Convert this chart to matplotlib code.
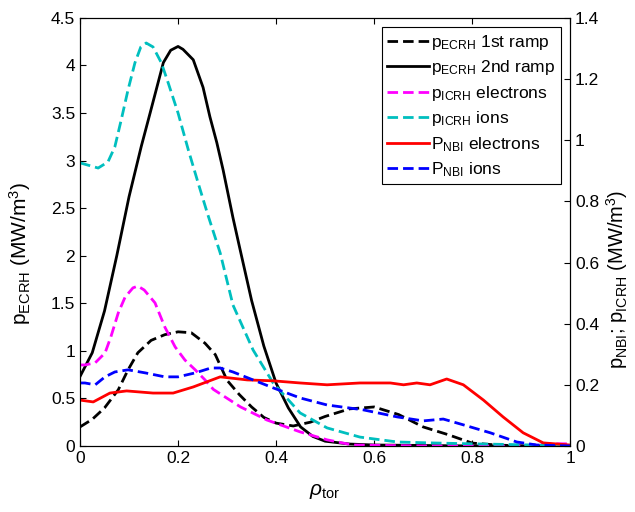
import matplotlib
matplotlib.use("Agg")
import matplotlib.pyplot as plt

plt.rcParams['font.family'] = ['Liberation Sans', 'DejaVu Sans']
plt.rcParams['mathtext.fontset'] = 'custom'
plt.rcParams['mathtext.rm'] = 'Liberation Sans'
plt.rcParams['mathtext.it'] = 'Liberation Sans:italic'
plt.rcParams['mathtext.default'] = 'regular'

# --- ECRH profiles (left axis, MW/m^3) ---
rho_ecrh2 = [0, 0.025, 0.05, 0.075, 0.1, 0.125, 0.143, 0.17, 0.185, 0.2, 0.21,
             0.231, 0.251, 0.265, 0.279, 0.292, 0.312, 0.325, 0.35, 0.375, 0.4, 0.425,
             0.45, 0.475, 0.5, 0.55, 0.6, 0.7, 0.8, 0.9, 1.0]
p_ecrh2 = [0.73, 0.98, 1.42, 2.0, 2.62, 3.15, 3.5, 4.03, 4.16, 4.2, 4.17,
           4.06, 3.77, 3.46, 3.19, 2.9, 2.4, 2.1, 1.53, 1.05, 0.66, 0.4,
           0.2, 0.1, 0.05, 0.02, 0.01, 0.005, 0.0, 0.0, 0.0]

rho_ecrh1 = [0, 0.025, 0.05, 0.078, 0.098, 0.118, 0.145, 0.173, 0.2, 0.227, 0.255,
             0.276, 0.3, 0.325, 0.35, 0.375, 0.4, 0.435, 0.47, 0.5, 0.55, 0.6, 0.65,
             0.7, 0.75, 0.8, 0.85, 0.9, 1.0]
p_ecrh1 = [0.2, 0.28, 0.4, 0.59, 0.8, 0.98, 1.11, 1.17, 1.2, 1.19, 1.08,
           0.96, 0.69, 0.54, 0.41, 0.3, 0.24, 0.21, 0.25, 0.31, 0.39, 0.41, 0.33,
           0.2, 0.12, 0.03, 0.01, 0.0, 0.0]

# --- ICRH / NBI profiles (right axis, MW/m^3) ---
rho_icrh_e = [0, 0.01, 0.031, 0.051, 0.063, 0.078, 0.092, 0.108, 0.118, 0.131, 0.153,
              0.173, 0.194, 0.214, 0.235, 0.255, 0.272, 0.327, 0.381, 0.449, 0.504,
              0.557, 0.7, 0.9, 0.95, 1.0]
p_icrh_e = [0.265, 0.265, 0.272, 0.304, 0.357, 0.435, 0.487, 0.517, 0.523, 0.51, 0.468,
            0.389, 0.324, 0.281, 0.249, 0.216, 0.185, 0.128, 0.085, 0.046, 0.02,
            0.003, 0.0, 0.0, 0.007, 0.007]

rho_icrh_i = [0, 0.037, 0.057, 0.071, 0.084, 0.098, 0.112, 0.124, 0.135, 0.149, 0.166,
              0.18, 0.2, 0.221, 0.241, 0.26, 0.286, 0.312, 0.353, 0.394, 0.449, 0.504,
              0.571, 0.647, 0.714, 0.8, 0.9, 1.0]
p_icrh_i = [0.926, 0.909, 0.929, 0.978, 1.066, 1.165, 1.253, 1.305, 1.318, 1.305, 1.253,
            1.187, 1.089, 0.968, 0.86, 0.76, 0.631, 0.461, 0.314, 0.206, 0.108, 0.059,
            0.029, 0.013, 0.01, 0.007, 0.004, 0.0]

rho_nbi_e = [0, 0.027, 0.061, 0.095, 0.149, 0.19, 0.231, 0.286, 0.341, 0.394, 0.449,
             0.504, 0.571, 0.633, 0.66, 0.687, 0.714, 0.748, 0.782, 0.823, 0.863,
             0.904, 0.945, 1.0]
p_nbi_e = [0.15, 0.144, 0.173, 0.18, 0.173, 0.173, 0.193, 0.226, 0.216, 0.213, 0.206,
           0.2, 0.206, 0.206, 0.2, 0.206, 0.2, 0.219, 0.2, 0.15, 0.095,
           0.043, 0.01, 0.003]

rho_nbi_i = [0, 0.01, 0.031, 0.051, 0.071, 0.098, 0.133, 0.173, 0.2, 0.235, 0.267,
             0.286, 0.312, 0.353, 0.394, 0.449, 0.504, 0.578, 0.647, 0.7, 0.741, 0.782,
             0.837, 0.891, 0.932, 1.0]
p_nbi_i = [0.206, 0.206, 0.2, 0.226, 0.242, 0.249, 0.239, 0.226, 0.226, 0.239, 0.255,
           0.255, 0.242, 0.216, 0.19, 0.157, 0.134, 0.118, 0.095, 0.082, 0.088, 0.069,
           0.043, 0.013, 0.003, 0.0]

dash = (0, (3.8, 1.8))
lw = 2.0

fig = plt.figure(figsize=(6.35, 5.12), dpi=100)
ax = fig.add_axes([0.126, 0.129, 0.772, 0.836])
ax2 = ax.twinx()

h1, = ax.plot(rho_ecrh1, p_ecrh1, color='k', lw=lw, ls=dash)
h2, = ax.plot(rho_ecrh2, p_ecrh2, color='k', lw=lw, ls='-')
h3, = ax2.plot(rho_icrh_e, p_icrh_e, color='#ff00ff', lw=lw, ls=dash)
h4, = ax2.plot(rho_icrh_i, p_icrh_i, color='#00bfbf', lw=lw, ls=dash)
h5, = ax2.plot(rho_nbi_e, p_nbi_e, color='#ff0000', lw=lw, ls='-')
h6, = ax2.plot(rho_nbi_i, p_nbi_i, color='#0000ff', lw=lw, ls=dash)

ax.set_xlim(0, 1)
ax.set_ylim(0, 4.5)
ax2.set_ylim(0, 1.4)
ax.set_xticks([0, 0.2, 0.4, 0.6, 0.8, 1])
ax.set_xticklabels(['0', '0.2', '0.4', '0.6', '0.8', '1'])
ax.set_yticks([0, 0.5, 1, 1.5, 2, 2.5, 3, 3.5, 4, 4.5])
ax.set_yticklabels(['0', '0.5', '1', '1.5', '2', '2.5', '3', '3.5', '4', '4.5'])
ax2.set_yticks([0, 0.2, 0.4, 0.6, 0.8, 1, 1.2, 1.4])
ax2.set_yticklabels(['0', '0.2', '0.4', '0.6', '0.8', '1', '1.2', '1.4'])

ax.tick_params(axis='both', direction='in', labelsize=12.5, length=4, top=True)
ax.tick_params(axis='y', right=False)
ax2.tick_params(axis='y', direction='in', labelsize=12.5, length=4)

ax.set_xlabel(r'$\mathit{\rho}_{tor}$', fontsize=15)
ax.set_ylabel(r'$p_{ECRH}$ (MW/m$^3$)', fontsize=15)
ax2.set_ylabel(r'$p_{NBI}$; $p_{ICRH}$ (MW/m$^3$)', fontsize=14.5)
ax.yaxis.set_label_coords(-0.095, 0.45)
ax2.yaxis.set_label_coords(1.07, 0.39)
ax.xaxis.set_label_coords(0.5, -0.085)

leg = ax2.legend([h1, h2, h3, h4, h5, h6],
                 [r'$p_{ECRH}$ 1st ramp', r'$p_{ECRH}$ 2nd ramp', r'$p_{ICRH}$ electrons',
                  r'$p_{ICRH}$ ions', r'$P_{NBI}$ electrons', r'$P_{NBI}$ ions'],
                 loc='upper right', fontsize=12.5, handlelength=2.4, handletextpad=0.15,
                 labelspacing=0.38, borderpad=0.3, fancybox=False, framealpha=1,
                 edgecolor='k', bbox_to_anchor=(0.998, 0.998))
leg.get_frame().set_linewidth(0.8)

fig.savefig('out.png', dpi=100)
